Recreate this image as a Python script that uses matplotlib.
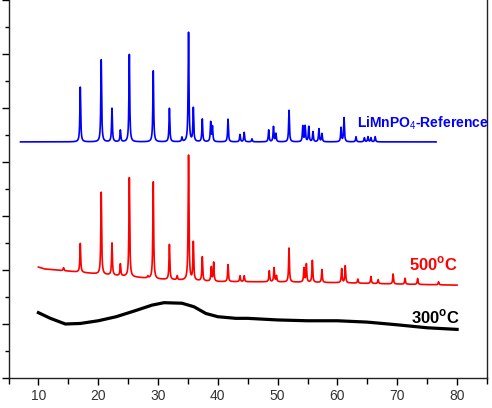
import numpy as np
import matplotlib
matplotlib.use('Agg')
import matplotlib.pyplot as plt
from matplotlib.ticker import MultipleLocator

plt.rcParams['font.family'] = ['Liberation Sans', 'DejaVu Sans']
plt.rcParams['mathtext.fontset'] = 'custom'
plt.rcParams['mathtext.rm'] = 'Liberation Sans'
plt.rcParams['mathtext.bf'] = 'Liberation Sans:bold'

# reference pattern (LiMnPO4): peak positions (2theta) and heights
ref_pos = [17.0, 20.5, 22.3, 23.7, 25.2, 29.2, 31.9, 34.0, 35.1, 35.9, 37.4, 38.8, 39.1,
           41.7, 43.7, 44.4, 45.7, 48.5, 49.3, 49.7, 51.9, 54.2, 54.6, 55.2, 55.9, 56.9,
           57.4, 60.6, 61.1, 63.1, 64.5, 65.1, 65.6, 66.3]
ref_h = [2.03, 3.04, 1.24, 0.43, 3.24, 2.63, 1.24, 0.16, 4.05, 1.24, 0.84, 0.72, 0.55,
         0.84, 0.27, 0.35, 0.11, 0.44, 0.56, 0.30, 1.17, 0.58, 0.58, 0.56, 0.37, 0.48,
         0.30, 0.52, 0.89, 0.19, 0.15, 0.19, 0.15, 0.19]
ref_base = 8.74

# 500 C sample
s500_pos = [14.2, 17.0, 20.5, 22.3, 23.7, 25.2, 28.3, 29.2, 31.9, 33.2, 35.1, 35.9, 37.4,
            38.9, 39.3, 41.7, 43.7, 44.4, 48.6, 49.4, 49.8, 51.9, 54.4, 54.8, 55.8, 57.4,
            60.7, 61.3, 63.4, 65.6, 66.8, 69.3, 71.3, 73.4, 76.9]
s500_h = [0.11, 1.07, 3.04, 1.19, 0.44, 3.67, 0.07, 3.59, 1.30, 0.15, 4.63, 1.41, 0.89,
          0.52, 0.70, 0.63, 0.22, 0.22, 0.41, 0.52, 0.22, 1.26, 0.52, 0.67, 0.81, 0.48,
          0.52, 0.63, 0.15, 0.26, 0.15, 0.37, 0.22, 0.22, 0.11]
s500_bx = [10, 11, 15, 20, 30, 40, 50, 60, 70, 80]
s500_by = [4.10, 4.03, 3.95, 3.84, 3.65, 3.56, 3.55, 3.52, 3.47, 3.43]

# 300 C sample (amorphous)
s300_x = [10, 12, 14.5, 17, 20, 23, 26, 29, 31, 34, 36, 38, 40, 43, 45, 50, 55, 60, 65, 70, 75, 80]
s300_y = [2.41, 2.20, 1.99, 2.01, 2.11, 2.26, 2.47, 2.69, 2.78, 2.76, 2.63, 2.38, 2.26,
          2.20, 2.20, 2.14, 2.11, 2.11, 2.06, 1.96, 1.85, 1.79]


def pattern(x, pos, h, w=0.08):
    y = np.zeros_like(x)
    for p, a in zip(pos, h):
        y += a * w**2 / ((x - p)**2 + w**2)
    return y


fig = plt.figure(figsize=(4.92, 4.08), dpi=100)
ax = fig.add_axes([0.0173, 0.0743, 0.9725, 0.9257])

x_ref = np.arange(7.0, 76.5, 0.01)
ax.plot(x_ref, ref_base + pattern(x_ref, ref_pos, ref_h), color='#0000ff', lw=1.2)

x500 = np.arange(10.0, 80.0, 0.01)
ax.plot(x500, np.interp(x500, s500_bx, s500_by) + pattern(x500, s500_pos, s500_h),
        color='#ff0000', lw=1.2)

ax.plot(s300_x, s300_y, color='black', lw=2.3)

ax.text(63.3, 9.44, 'LiMnPO$_4$-Reference', color='#0000ff', fontsize=10,
        fontweight='bold', va='center')
ax.text(71.9, 4.21, '500$^\\mathbf{o}$C', color='#ff0000', fontsize=12,
        fontweight='bold', va='center')
ax.text(72.3, 2.24, '300$^\\mathbf{o}$C', color='black', fontsize=12,
        fontweight='bold', va='center')

ax.set_xlim(5, 85)
ax.set_ylim(0, 14)
ax.xaxis.set_major_locator(MultipleLocator(10))
ax.xaxis.set_minor_locator(MultipleLocator(5))
ax.yaxis.set_major_locator(MultipleLocator(2))
ax.yaxis.set_minor_locator(MultipleLocator(1))
ax.tick_params(axis='x', which='major', length=5, width=1, labelsize=10, pad=3,
               labelcolor='#333333')
ax.tick_params(axis='x', which='minor', length=4, width=1)
ax.tick_params(axis='y', which='major', length=5, width=1, labelleft=False)
ax.tick_params(axis='y', which='minor', length=3, width=1)
ax.spines['top'].set_visible(False)
for s in ['left', 'bottom', 'right']:
    ax.spines[s].set_linewidth(1.0)
    ax.spines[s].set_color('#222222')

fig.savefig('out.png', dpi=100)
